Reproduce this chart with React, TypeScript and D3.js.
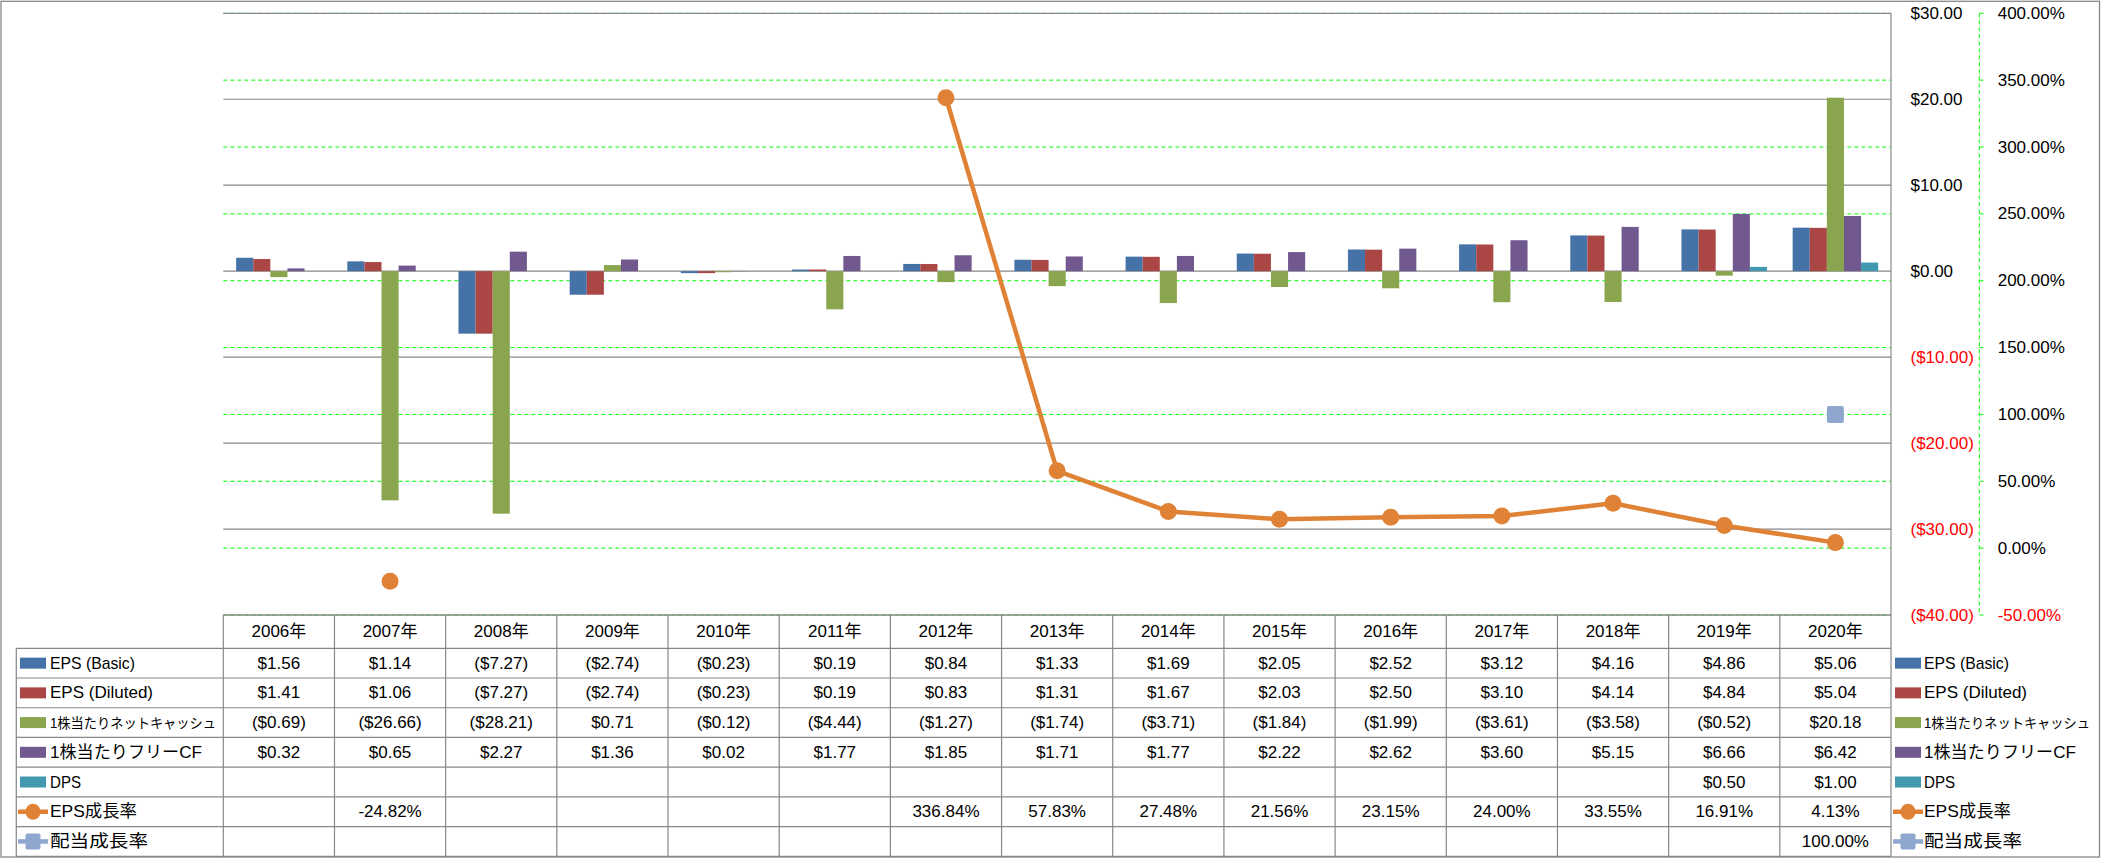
import React from 'react';
import * as d3 from 'd3';

// ---------- DATA ----------
const years = ['2006年', '2007年', '2008年', '2009年', '2010年', '2011年', '2012年', '2013年', '2014年', '2015年', '2016年', '2017年', '2018年', '2019年', '2020年'];
const epsBasic = [1.56, 1.14, -7.27, -2.74, -0.23, 0.19, 0.84, 1.33, 1.69, 2.05, 2.52, 3.12, 4.16, 4.86, 5.06];
const epsDiluted = [1.41, 1.06, -7.27, -2.74, -0.23, 0.19, 0.83, 1.31, 1.67, 2.03, 2.50, 3.10, 4.14, 4.84, 5.04];
const netCashPerShare = [-0.69, -26.66, -28.21, 0.71, -0.12, -4.44, -1.27, -1.74, -3.71, -1.84, -1.99, -3.61, -3.58, -0.52, 20.18];
const fcfPerShare = [0.32, 0.65, 2.27, 1.36, 0.02, 1.77, 1.85, 1.71, 1.77, 2.22, 2.62, 3.60, 5.15, 6.66, 6.42];
const dps: (number | null)[] = [null, null, null, null, null, null, null, null, null, null, null, null, null, 0.50, 1.00];
const epsGrowth: (number | null)[] = [null, -24.82, null, null, null, null, 336.84, 57.83, 27.48, 21.56, 23.15, 24.00, 33.55, 16.91, 4.13];
const divGrowth: (number | null)[] = [null, null, null, null, null, null, null, null, null, null, null, null, null, null, 100.00];
const leftTicks = [30, 20, 10, 0, -10, -20, -30, -40];
const rightTicks = [400, 350, 300, 250, 200, 150, 100, 50, 0, -50];
const seriesNames = ['EPS (Basic)', 'EPS (Diluted)', '1株当たりネットキャッシュ', '1株当たりフリーCF', 'DPS', 'EPS成長率', '配当成長率'];

// ---------- STYLE ----------
const W = 2101;
const H = 858;
const FONT = '"Liberation Sans", "Noto Sans CJK JP", sans-serif';
const FS = 17;
const barColors = ['#4572A7', '#AA4643', '#89A54E', '#71588F', '#4198AF'];
const lineColor = '#DF8236';
const squareColor = '#8FA7CF';
const gridGray = '#878787';
const gridGreen = '#00FF00';
const labelWidths = [85, 103, 166, 152, 31, 87, 98];
const labelSizes = [17, 17, 14, 16.5, 17, 17, 17];

const plotLeft = 223.3;
const plotRight = 1891;
const plotTop = 13.3;
const plotBottom = 615;
const tableTop = 615;
const headerBottom = 648.3;
const tableBottom = 856.3;
const labelLeft = 16.3;

const moneyFmt = (v: number) => (v < 0 ? `($${Math.abs(v).toFixed(2)})` : `$${v.toFixed(2)}`);
const pctFmt = (v: number) => `${v.toFixed(2)}%`;

export default function App() {
  const barSeries = [epsBasic, epsDiluted, netCashPerShare, fcfPerShare, dps];
  const barKeys = ['b0', 'b1', 'b2', 'b3', 'b4'];

  const x = d3.scaleBand<string>().domain(years).range([plotLeft, plotRight]).padding(0);
  const bw = x.bandwidth();
  const gap = (bw * 0.75) / 6.5;
  const x1 = d3.scaleBand<string>().domain(barKeys).range([gap, bw - gap]).padding(0);
  const yL = d3.scaleLinear().domain([-40, 30]).range([plotBottom, plotTop]);
  const yR = d3.scaleLinear().domain([-50, 400]).range([plotBottom, plotTop]);

  const rowH = (tableBottom - headerBottom) / 7;
  const rowCenter = (i: number) => headerBottom + rowH * (i + 0.5);

  const cx = (i: number) => (x(years[i]) as number) + bw / 2;

  const lineGen = d3
    .line<number | null>()
    .defined((d) => d !== null)
    .x((_, i) => cx(i))
    .y((d) => yR(d as number));

  const tableRows: string[][] = [
    epsBasic.map(moneyFmt),
    epsDiluted.map(moneyFmt),
    netCashPerShare.map(moneyFmt),
    fcfPerShare.map(moneyFmt),
    dps.map((v) => (v === null ? '' : moneyFmt(v))),
    epsGrowth.map((v) => (v === null ? '' : pctFmt(v))),
    divGrowth.map((v) => (v === null ? '' : pctFmt(v))),
  ];

  const legendSymbol = (i: number, cxs: number, cy: number) => {
    if (i < 5) {
      return <rect x={cxs - 13} y={cy - 5.5} width={26} height={11} fill={barColors[i]} />;
    }
    if (i === 5) {
      return (
        <g>
          <line x1={cxs - 15} x2={cxs + 15} y1={cy} y2={cy} stroke={lineColor} strokeWidth={4.5} />
          <ellipse cx={cxs} cy={cy} rx={7.5} ry={8} fill={lineColor} />
        </g>
      );
    }
    return (
      <g>
        <line x1={cxs - 15} x2={cxs + 15} y1={cy} y2={cy} stroke={squareColor} strokeWidth={4.5} />
        <rect x={cxs - 7.5} y={cy - 8} width={15} height={16} rx={2} fill={squareColor} />
      </g>
    );
  };

  return (
    <div style={{ position: 'absolute', left: 0, top: 0, width: W, height: H, overflow: 'hidden', background: '#fff' }}>
      <svg width={W} height={H} style={{ display: 'block' }} fontFamily={FONT} fontSize={FS}>
        <rect x={0} y={0} width={W} height={H} fill="#ffffff" />
        {/* outer border */}
        <rect x={1} y={1.3} width={2098.5} height={855.7} fill="none" stroke={gridGray} strokeWidth={1.3} />

        {/* secondary (green dashed) gridlines */}
        {rightTicks.map((t) => (
          <line key={'gg' + t} x1={plotLeft} x2={plotRight} y1={yR(t)} y2={yR(t)} stroke={gridGreen} strokeWidth={1} strokeDasharray="4,3" />
        ))}
        {/* primary gray gridlines */}
        {leftTicks.map((t) => (
          <line key={'gl' + t} x1={plotLeft} x2={plotRight} y1={yL(t)} y2={yL(t)} stroke={gridGray} strokeWidth={1.2} />
        ))}

        {/* bars */}
        {years.map((yr, i) => (
          <g key={'bars' + yr} transform={`translate(${x(yr)},0)`}>
            {barSeries.map((s, k) => {
              const v = s[i];
              if (v === null || v === undefined) return null;
              const y0 = yL(0);
              const y1 = yL(v);
              return (
                <rect
                  key={k}
                  x={x1(barKeys[k])}
                  y={Math.min(y0, y1)}
                  width={x1.bandwidth()}
                  height={Math.abs(y1 - y0)}
                  fill={barColors[k]}
                />
              );
            })}
          </g>
        ))}

        {/* plot right border */}
        <line x1={plotRight} x2={plotRight} y1={plotTop} y2={tableBottom} stroke={gridGray} strokeWidth={1.2} />

        {/* EPS growth line */}
        <path d={lineGen(epsGrowth) || ''} fill="none" stroke={lineColor} strokeWidth={4.5} strokeLinejoin="round" />
        {epsGrowth.map((v, i) =>
          v === null ? null : <circle key={'m' + i} cx={cx(i)} cy={yR(v)} r={8.5} fill={lineColor} />
        )}
        {divGrowth.map((v, i) =>
          v === null ? null : (
            <rect key={'s' + i} x={cx(i) - 8.5} y={yR(v) - 8.5} width={17} height={17} rx={2} fill={squareColor} />
          )
        )}

        {/* left ($) axis labels placed right of plot */}
        {leftTicks.map((t) => (
          <text key={'lt' + t} x={1910.5} y={yL(t)} dominantBaseline="central" fill={t < 0 ? '#FF0000' : '#000'}>
            {moneyFmt(t)}
          </text>
        ))}
        {/* secondary axis line */}
        <line x1={1979.3} x2={1979.3} y1={plotTop} y2={plotBottom} stroke={gridGreen} strokeWidth={1} strokeDasharray="4,3" />
        {rightTicks.map((t) => (
          <line key={'rt' + t} x1={1979.3} x2={1983.5} y1={yR(t)} y2={yR(t)} stroke={gridGreen} strokeWidth={1} />
        ))}
        {rightTicks.map((t) => (
          <text key={'rl' + t} x={1997.7} y={yR(t)} dominantBaseline="central" fill={t < 0 ? '#FF0000' : '#000'}>
            {pctFmt(t)}
          </text>
        ))}

        {/* data table */}
        <line x1={plotLeft} x2={plotRight} y1={tableTop} y2={tableTop} stroke={gridGray} strokeWidth={1.2} />
        {d3.range(8).map((r) => (
          <line
            key={'hr' + r}
            x1={labelLeft}
            x2={plotRight}
            y1={headerBottom + rowH * r}
            y2={headerBottom + rowH * r}
            stroke={gridGray}
            strokeWidth={1.2}
          />
        ))}
        <line x1={labelLeft} x2={labelLeft} y1={headerBottom} y2={tableBottom} stroke={gridGray} strokeWidth={1.2} />
        {years.map((yr) => (
          <line
            key={'vc' + yr}
            x1={x(yr) as number}
            x2={x(yr) as number}
            y1={tableTop}
            y2={tableBottom}
            stroke={gridGray}
            strokeWidth={1.2}
          />
        ))}
        {years.map((yr, i) => (
          <text key={'hd' + yr} x={cx(i)} y={(tableTop + headerBottom) / 2} textAnchor="middle" dominantBaseline="central" fill="#000">
            {yr}
          </text>
        ))}
        {tableRows.map((row, r) =>
          row.map((txt, i) =>
            txt ? (
              <text key={`c${r}-${i}`} x={cx(i)} y={rowCenter(r)} textAnchor="middle" dominantBaseline="central" fill="#000">
                {txt}
              </text>
            ) : null
          )
        )}
        {/* table legend keys */}
        {seriesNames.map((n, r) => (
          <g key={'tl' + r}>
            {legendSymbol(r, 33, rowCenter(r))}
            <text
              x={50}
              y={rowCenter(r)}
              dominantBaseline="central"
              fill="#000"
              fontSize={labelSizes[r]}
              textLength={labelWidths[r]}
              lengthAdjust="spacingAndGlyphs"
            >
              {n}
            </text>
          </g>
        ))}
        {/* right legend */}
        {seriesNames.map((n, r) => (
          <g key={'rl' + r}>
            {legendSymbol(r, 1908, rowCenter(r))}
            <text
              x={1924}
              y={rowCenter(r)}
              dominantBaseline="central"
              fill="#000"
              fontSize={labelSizes[r]}
              textLength={labelWidths[r]}
              lengthAdjust="spacingAndGlyphs"
            >
              {n}
            </text>
          </g>
        ))}
      </svg>
    </div>
  );
}
